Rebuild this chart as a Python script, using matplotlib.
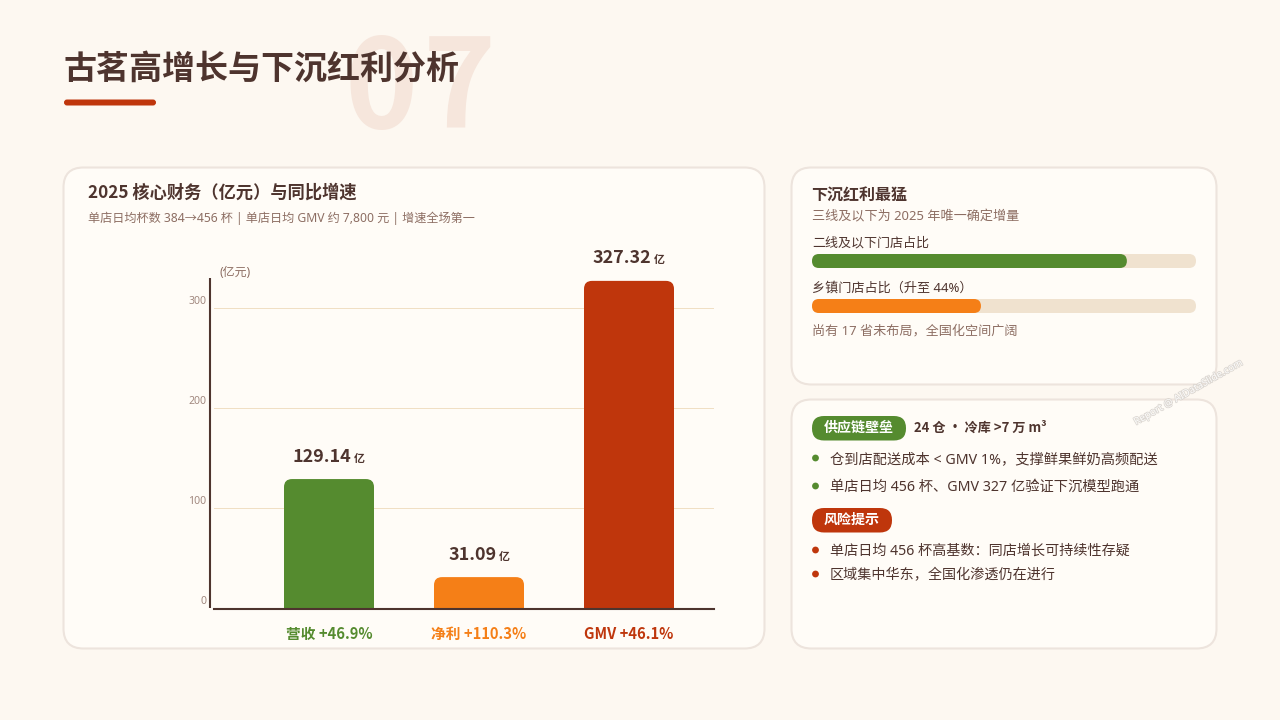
import matplotlib
matplotlib.use('Agg')
import matplotlib.pyplot as plt
import matplotlib.patheffects as pe
from matplotlib.patches import FancyBboxPatch, Circle
from matplotlib.transforms import ScaledTranslation

# Noto Sans has only a regular face here, so bold text goes through the CJK family
REGULAR = ['Noto Sans', 'Noto Sans CJK SC', 'DejaVu Sans']
BOLD = ['Noto Sans CJK SC', 'DejaVu Sans']
plt.rcParams['font.family'] = REGULAR

# data
categories = ['营收 +46.9%', '净利 +110.3%', 'GMV +46.1%']
values = [129.14, 31.09, 327.32]
y_ticks = [0, 100, 200, 300]
progress_labels = ['二线及以下门店占比', '乡镇门店占比（升至 44%）']
progress_values = [82, 44]
supply_items = ['仓到店配送成本 < GMV 1%，支撑鲜果鲜奶高频配送', '单店日均 456 杯、GMV 327 亿验证下沉模型跑通']
risk_items = ['单店日均 456 杯高基数：同店增长可持续性存疑', '区域集中华东，全国化渗透仍在进行']

# colors
BG = '#FDF8F1'
CARD = '#FFFCF7'
BORDER = '#EDE4DD'
BROWN = '#4E342E'
MUTED = '#8D6E63'
GREEN = '#558B2F'
ORANGE = '#F57F17'
RED = '#BF360C'
TRACK = '#F0E2CF'
GRID = '#F0DFC4'
bar_colors = [GREEN, ORANGE, RED]
W, H = 1280, 720


def pt(px):
    return px * 0.72


def px_axes(left, top, right, bottom):
    return fig.add_axes([left / W, 1 - bottom / H, (right - left) / W, (bottom - top) / H])


def round_box(ax, x0, y0, x1, y1, r, **kw):
    box = FancyBboxPatch((x0, y0), x1 - x0, y1 - y0, boxstyle='round,pad=0,rounding_size=%f' % r, **kw)
    ax.add_patch(box)
    return box


def label(x, y, s, size, color=BROWN, weight='normal', ha='left', **kw):
    family = BOLD if weight != 'normal' else REGULAR
    return bg.text(x, y, s, fontsize=pt(size), color=color, fontweight=weight, family=family, ha=ha, va='center', **kw)


fig = plt.figure(figsize=(W / 100, H / 100), dpi=100, facecolor=BG)

# page layer in pixel coordinates
bg = fig.add_axes([0, 0, 1, 1], zorder=0)
bg.set_xlim(0, W)
bg.set_ylim(H, 0)
bg.axis('off')

# the two digits are placed apart, the installed face is narrower than the original
label(381.5, 92, '0', 124, color='#F6E6DC', weight='black', ha='center')
label(459, 92, '7', 124, color='#F6E6DC', weight='black', ha='center')
label(63.5, 69.5, '古茗高增长与下沉红利分析', 33, weight='bold')
round_box(bg, 64, 99.5, 156, 105.5, 3, fc=RED, ec='none')

for x0, y0, x1, y1 in [(63.5, 167.5, 764.5, 648.5), (791.5, 167.5, 1216.5, 384.5), (791.5, 399.5, 1216.5, 648.5)]:
    round_box(bg, x0, y0, x1, y1, 20, fc=CARD, ec=BORDER, lw=1.5)

label(88, 192.5, '2025 核心财务（亿元）与同比增速', 17.2, weight='bold')
label(88, 218, '单店日均杯数 384→456 杯 | 单店日均 GMV 约 7,800 元 | 增速全场第一', 12.15, color=MUTED)

# bar chart, one data unit is one pixel in y
ax = px_axes(214, 278.2, 714, 608.2)
ax.patch.set_alpha(0)
ax.set_xlim(-115 / 150, 385 / 150)
ax.set_ylim(0, 330)
bars = ax.bar(range(len(values)), values, width=0.6, color=bar_colors)
for b in bars:
    x, w, h = b.get_x(), b.get_width(), b.get_height()
    c = b.get_facecolor()
    b.remove()
    # bottom corners go below the axis and get clipped
    ax.add_patch(FancyBboxPatch((x, -20), w, h + 20, boxstyle='round,pad=0,rounding_size=%f' % (8 / 150),
                                mutation_aspect=150, fc=c, ec='none', zorder=2))

# set_position on a spine resets the ticks, so spines come before the tick setup
for s in ['top', 'right']:
    ax.spines[s].set_visible(False)
ax.spines['left'].set_position(('outward', pt(4)))
ax.spines['left'].set_color(BROWN)
ax.spines['left'].set_linewidth(1.5)
ax.spines['left'].set_capstyle('butt')
ax.spines['bottom'].set_position(('outward', pt(1)))
ax.spines['bottom'].set_color(BROWN)
ax.spines['bottom'].set_linewidth(1.5)

ax.set_yticks(y_ticks)
ax.set_xticks(range(len(categories)))
ax.set_xticklabels(categories, fontsize=pt(14.7), fontweight='bold', family=BOLD)
for t, c in zip(ax.get_xticklabels(), bar_colors):
    t.set_color(c)
ax.tick_params(axis='x', length=0, pad=pt(17))
ax.tick_params(axis='y', length=0, pad=pt(3.7), labelsize=pt(10.5), labelcolor='#A1887F')
ax.grid(axis='y', color=GRID, lw=0.72, zorder=1)
ax.set_axisbelow(True)
# tick labels sit above their gridline
for t in ax.get_yticklabels():
    t.set_transform(t.get_transform() + ScaledTranslation(0, 8 / 100, fig.dpi_scale_trans))
label(220, 272, '(亿元)', 12, color=MUTED, zorder=5)

# value labels: number + small unit, centred together above the bar
renderer = fig.canvas.get_renderer()
for i, v in enumerate(values):
    num = ax.annotate('%.2f' % v, (i, v), xytext=(0, pt(22.5)), textcoords='offset points', ha='left', va='center',
                      fontsize=pt(18), fontweight='bold', family=BOLD, color=BROWN)
    unit = ax.annotate('亿', (i, v), xytext=(0, pt(20.5)), textcoords='offset points', ha='left', va='center',
                       fontsize=pt(11), fontweight='bold', family=BOLD, color=BROWN)
    nw = num.get_window_extent(renderer).width
    uw = unit.get_window_extent(renderer).width
    gap = 2.5
    start = -(nw + gap + uw) / 2
    num.set_position((pt(start), pt(22.5)))
    unit.set_position((pt(start + nw + gap), pt(20.5)))

# top right card
label(811.5, 195.5, '下沉红利最猛', 16, weight='bold')
label(812, 216.5, '三线及以下为 2025 年唯一确定增量', 13.1, color=MUTED)
label(812, 242.5, progress_labels[0], 13)
label(812, 288, progress_labels[1], 13.1)
label(812, 331.5, '尚有 17 省未布局，全国化空间广阔', 13.1, color=MUTED)

pax = px_axes(812, 250, 1196, 315)
pax.set_xlim(0, 100)
pax.set_ylim((315 - 261) / 45, (250 - 261) / 45)
pax.axis('off')
scale_x = 100 / 384
scale_y = 1 / 45
for i, (v, c) in enumerate(zip(progress_values, [GREEN, ORANGE])):
    for val, col in [(100, TRACK), (v, c)]:
        b = pax.barh(i, val, height=14 * scale_y, color=col)[0]
        x, y, w, h = b.get_x(), b.get_y(), b.get_width(), b.get_height()
        b.remove()
        pax.add_patch(FancyBboxPatch((x, y), w, h, boxstyle='round,pad=0,rounding_size=%f' % (7 * scale_x),
                                     mutation_aspect=scale_y / scale_x, fc=col, ec='none'))

# bottom right card
round_box(bg, 812, 416, 906, 440.5, 12, fc=GREEN, ec='none')
label(859, 428, '供应链壁垒', 14, color='white', weight='bold', ha='center')
label(914, 428, '24 仓 • 冷库 >7 万 m³', 13.1, weight='bold')
round_box(bg, 812, 508, 892, 532.5, 12, fc=RED, ec='none')
label(852, 520, '风险提示', 14, color='white', weight='bold', ha='center')

for y, s in zip([459.5, 487.5], supply_items):
    bg.add_patch(Circle((815.5, y - 1.5), 3.4, fc=GREEN, ec='none'))
    label(830, y, s, 14.25)
for y, s in zip([551.5, 575.5], risk_items):
    bg.add_patch(Circle((815.5, y - 1.5), 3.4, fc=RED, ec='none'))
    label(830, y, s, 14.1)

# watermark
wm = fig.add_axes([0, 0, 1, 1], zorder=10)
wm.set_xlim(0, W)
wm.set_ylim(H, 0)
wm.axis('off')
wm.text(1188.5, 392.5, 'Report @ AIDataSlide.com', fontsize=pt(10), color='white', rotation=29.5, ha='center', va='center',
        rotation_mode='anchor', alpha=0.9, path_effects=[pe.withStroke(linewidth=1.2, foreground='#DAD5CF')])

fig.savefig('out.png', dpi=100, facecolor=BG)
